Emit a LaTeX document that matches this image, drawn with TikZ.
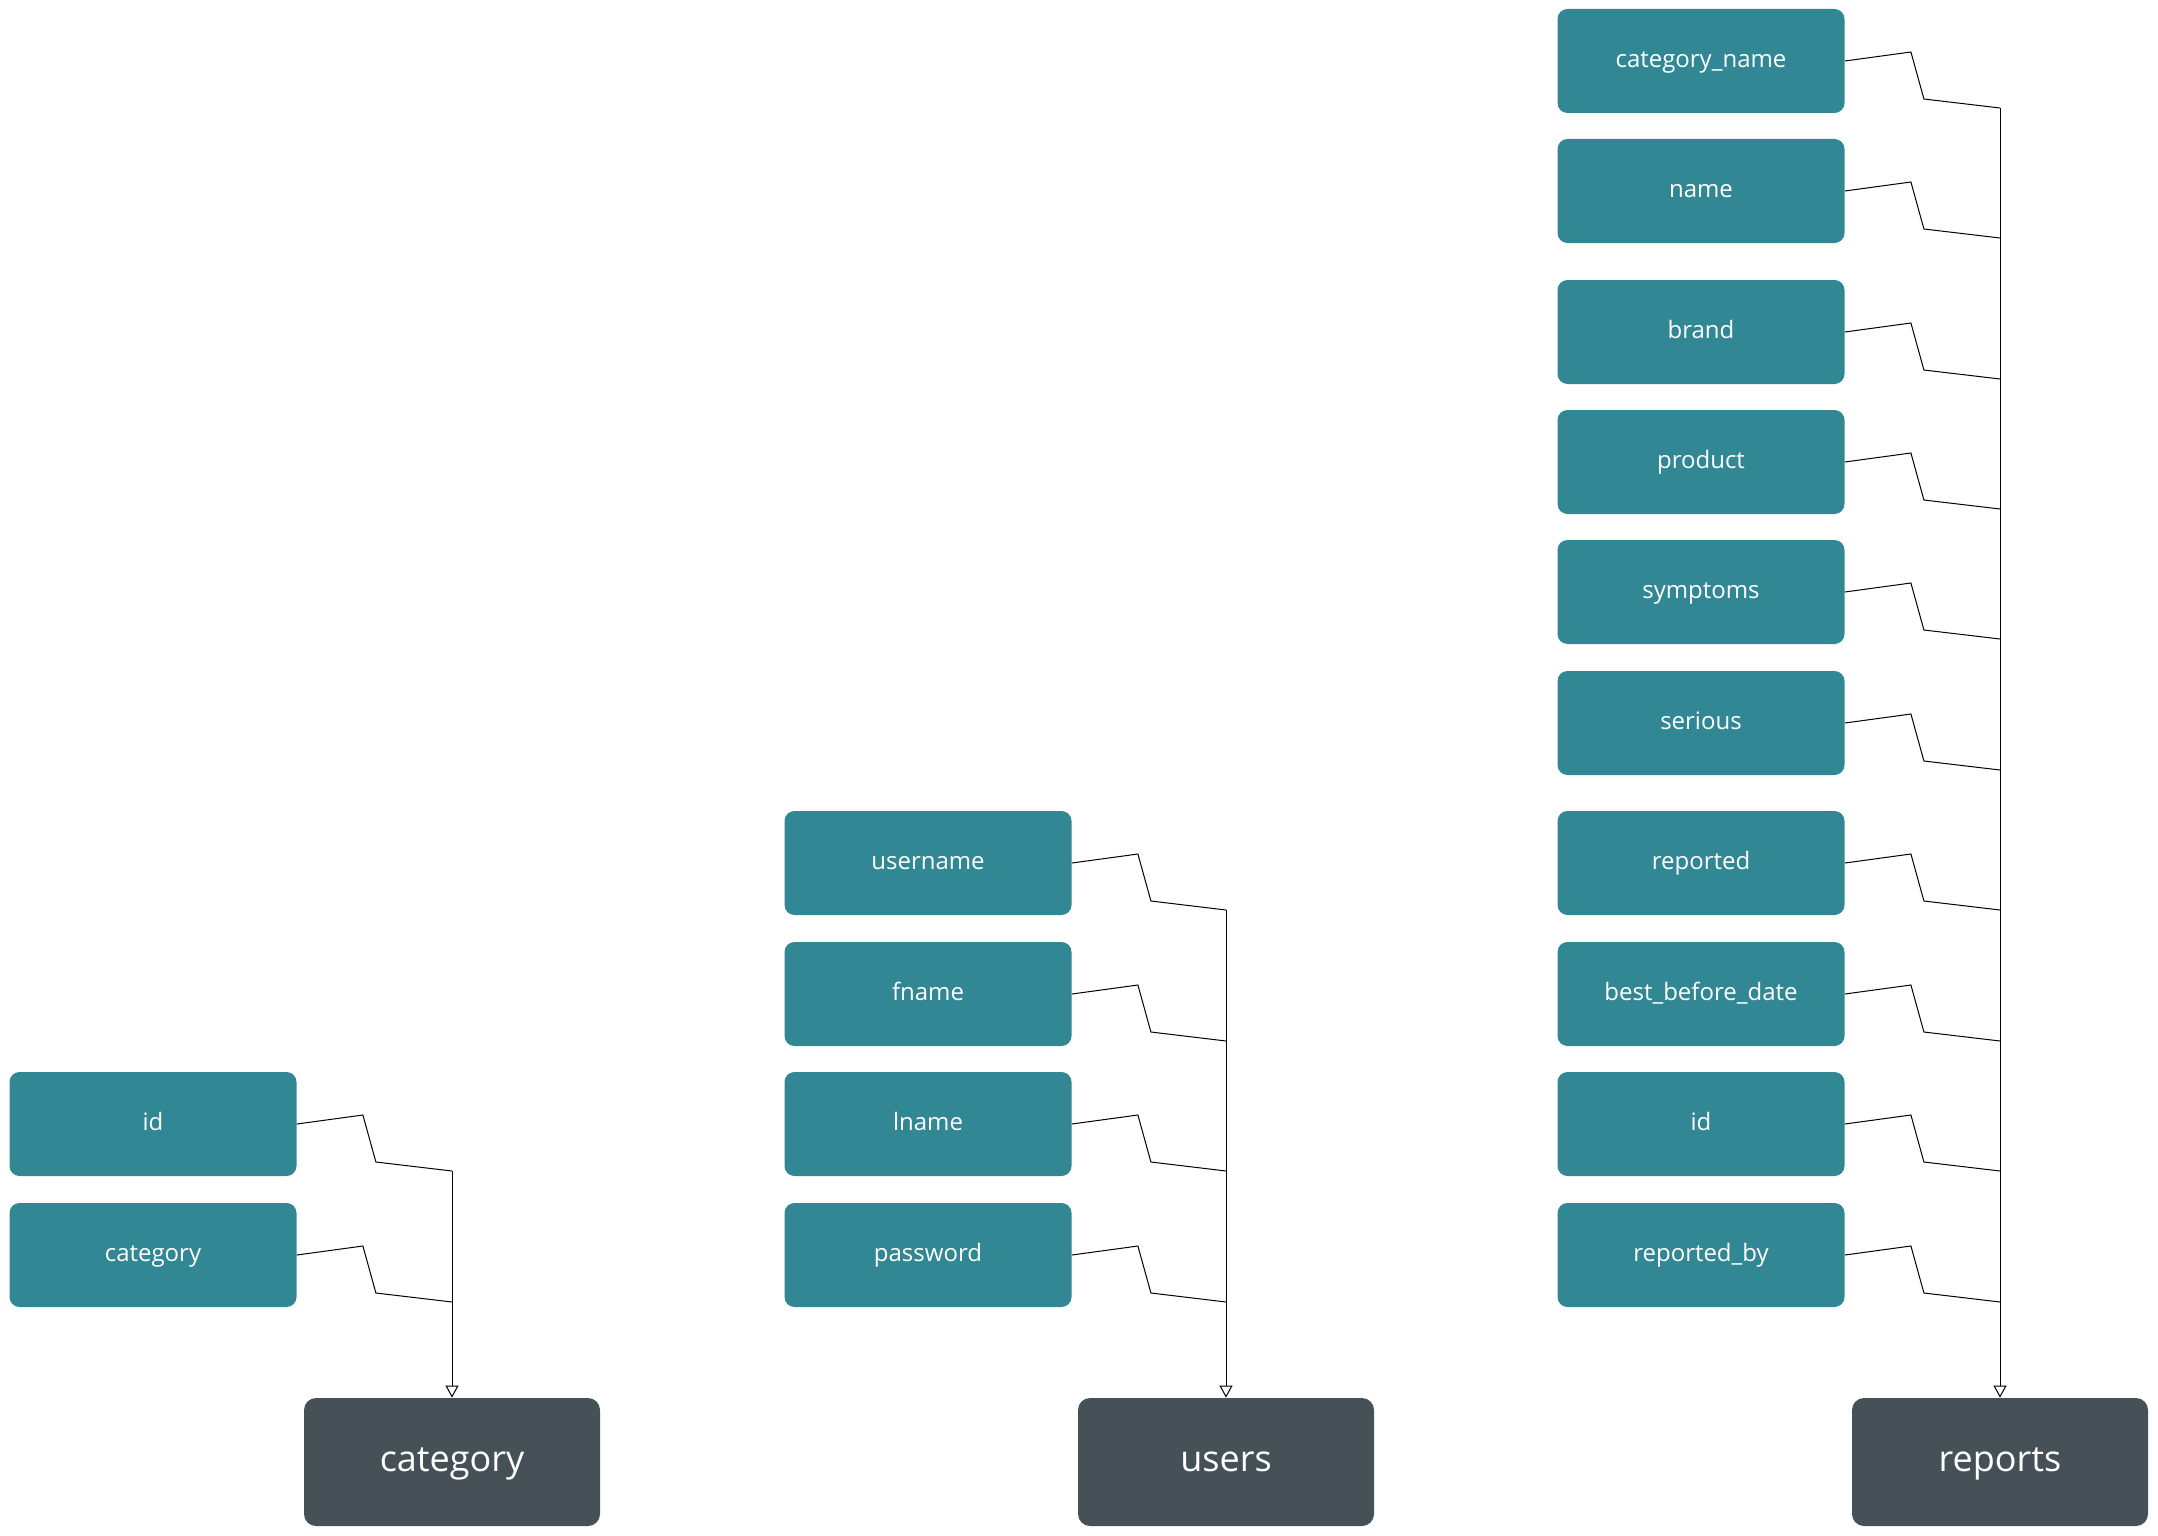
\documentclass[tikz,border=0pt]{standalone}
\usepackage{fontspec}
\setmainfont{Open Sans}
\usetikzlibrary{arrows.meta, calc}
\definecolor{attrteal}{HTML}{318794}
\definecolor{entgray}{HTML}{465157}

\begin{document}
\begin{tikzpicture}[x=0.5pt, y=-0.5pt,
    attr/.style={fill=attrteal, text=white, rounded corners=5pt, inner sep=0pt,
        minimum width=143.5pt, minimum height=52pt, font=\fontsize{12}{14}\selectfont,
        text height=6.5pt, text depth=0pt},
    entity/.style={fill=entgray, text=white, rounded corners=6pt, inner sep=0pt,
        minimum width=148pt, minimum height=64pt, font=\fontsize{18}{21}\selectfont,
        text height=9.7pt, text depth=0pt},
    link/.style={draw=black, line width=0.5pt},
    feed/.style={link, -{Triangle[open, length=6pt, width=6.5pt]}}]
    % page frame
    \useasboundingbox (0,0) rectangle (2158,1536);
    % category table
    \node[attr] (catid) at (153,1124) {id};
    \node[attr] (catname) at (153,1255) {category};
    \node[entity] (category) at (452,1462) {category};
    % users table
    \node[attr] (username) at (928,863) {username};
    \node[attr] (fname) at (928,994) {fname};
    \node[attr] (lname) at (928,1124) {lname};
    \node[attr] (password) at (928,1255) {password};
    \node[entity] (users) at (1226,1462) {users};
    % reports table
    \node[attr] (repcat) at (1701,61) {category\_name};
    \node[attr] (repname) at (1701,191) {name};
    \node[attr] (brand) at (1701,332) {brand};
    \node[attr] (product) at (1701,462) {product};
    \node[attr] (symptoms) at (1701,592) {symptoms};
    \node[attr] (serious) at (1701,723) {serious};
    \node[attr] (reported) at (1701,863) {reported};
    \node[attr] (bestbefore) at (1701,994) {best\_before\_date};
    \node[attr] (repid) at (1701,1124) {id};
    \node[attr] (reportedby) at (1701,1255) {reported\_by};
    \node[entity] (reports) at (2000,1462) {reports};
    % connectors into each table
    \foreach \a in {catid, catname} {
        \coordinate (\a-j) at ($(\a.east -| category.north)+(0,47)$);
        \draw[link] (\a.east) -- ++(66,-9) -- ++(13,47) -- (\a-j);
    }
    \draw[feed] (catid-j) -- (category.north);
    \foreach \a in {username, fname, lname, password} {
        \coordinate (\a-j) at ($(\a.east -| users.north)+(0,47)$);
        \draw[link] (\a.east) -- ++(66,-9) -- ++(13,47) -- (\a-j);
    }
    \draw[feed] (username-j) -- (users.north);
    \foreach \a in {repcat, repname, brand, product, symptoms, serious, reported, bestbefore, repid, reportedby} {
        \coordinate (\a-j) at ($(\a.east -| reports.north)+(0,47)$);
        \draw[link] (\a.east) -- ++(66,-9) -- ++(13,47) -- (\a-j);
    }
    \draw[feed] (repcat-j) -- (reports.north);
\end{tikzpicture}
\end{document}
